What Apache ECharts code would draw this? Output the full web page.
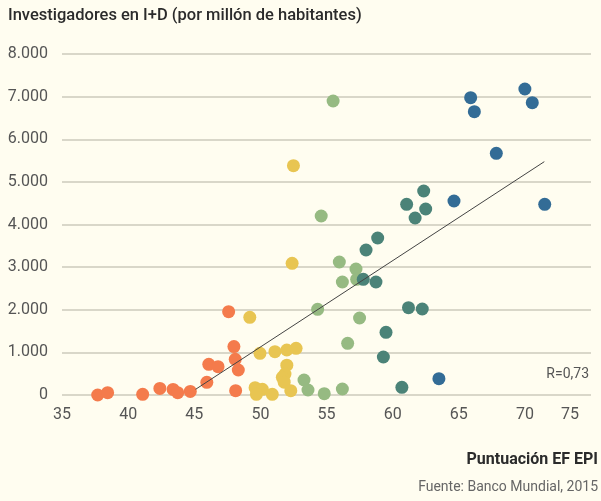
<!DOCTYPE html>
<html>
<head>
<meta charset="utf-8">
<script src="https://cdn.jsdelivr.net/npm/echarts@6/dist/echarts.min.js"></script>
<style>
html,body{margin:0;padding:0;background:#fffdf0;}
#chart{width:601px;height:501px;}
</style>
</head>
<body>
<div id="chart"></div>
<script>
// puntos [EF EPI, investigadores por millón]
var grupoNaranja = [[37.7,0],[38.45,55],[41.1,15],[42.4,155],[43.4,130],[43.75,55],[44.7,85],
    [45.95,297],[46.1,720],[46.8,665],[47.6,1955],[48.0,1135],[48.1,837],[48.33,586],[48.13,101]];
var grupoAmarillo = [[49.2,1822],[49.97,978],[51.1,1017],[52.0,1056],[52.7,1095],[52.0,700],
    [51.86,490],[51.66,415],[51.8,300],[52.3,101],[49.6,172],[50.15,133],[49.7,15],[50.9,15],
    [52.5,5380],[52.4,3090]];
var grupoVerde = [[55.5,6897],[54.6,4199],[55.97,3120],[57.23,2956],[56.2,2651],[57.28,2714],
    [54.33,2010],[57.5,1806],[56.6,1213],[53.3,352],[53.6,117],[54.83,31],[56.2,141]];
var grupoTeal = [[62.35,4786],[61.06,4474],[62.5,4364],[61.7,4152],[58.87,3683],[57.99,3402],
    [57.78,2714],[58.74,2651],[61.2,2048],[62.24,2018],[59.5,1471],[59.3,891],[60.7,180]];
var grupoAzul = [[70.0,7179],[65.9,6975],[70.56,6858],[66.18,6647],[67.84,5670],[64.64,4551],
    [71.5,4474],[63.5,383]];
var tendencia = [[45.1,133],[71.47,5474]];
var colores = ['#f47b4c','#e8c552','#96ba82','#4b8378','#336c96'];

var myChart = echarts.init(document.getElementById('chart'));

function puntos(datos, color){
    return {
        type:'scatter',
        data:datos,
        symbolSize:13,
        itemStyle:{color:color, opacity:1},
        z:3
    };
}

var option = {
    backgroundColor:'#fffdf0',
    animation:false,
    textStyle:{fontFamily:'Roboto'},
    title:[
        {
            text:'Investigadores en I+D (por millón de habitantes)',
            left:8, top:7, padding:0,
            textStyle:{fontSize:16.5, fontWeight:500, color:'#2b2b2b', fontFamily:'Roboto'}
        },
        {
            text:'Puntuación EF EPI',
            right:3, top:452, padding:0,
            textStyle:{fontSize:16, fontWeight:'bold', color:'#2b2b2b', fontFamily:'Roboto'}
        },
        {
            text:'Fuente: Banco Mundial, 2015',
            right:3, top:480, padding:0,
            textStyle:{fontSize:14, fontWeight:'normal', color:'#666', fontFamily:'Roboto'}
        }
    ],
    grid:{left:62, right:10, top:54, bottom:106},
    xAxis:{
        type:'value',
        min:35, max:75, interval:5,
        axisLine:{show:false},
        axisTick:{show:false},
        splitLine:{show:false},
        axisLabel:{
            color:'#555', fontSize:16, margin:12,
            formatter:function(v){ return v === 75 ? '{u|75}' : v; },
            rich:{u:{fontSize:16, color:'#555', padding:[0,42,0,0]}}
        }
    },
    yAxis:{
        type:'value',
        min:0, max:8000, interval:1000,
        axisLine:{show:false},
        axisTick:{show:false},
        splitLine:{lineStyle:{color:'#cdcabc', width:1.5}},
        axisLabel:{
            color:'#555', fontSize:16, margin:14,
            formatter:function(v){ return v === 0 ? '0' : (v/1000) + '.000'; }
        }
    },
    graphic:[
        {type:'text', right:12, top:367, style:{text:'R=0,73', fontSize:14, fill:'#555', fontFamily:'Roboto'}}
    ],
    series:[
        {
            type:'line', data:tendencia, symbol:'none', z:4,
            lineStyle:{color:'#444', width:1}
        },
        puntos(grupoNaranja, colores[0]),
        puntos(grupoAmarillo, colores[1]),
        puntos(grupoVerde, colores[2]),
        puntos(grupoTeal, colores[3]),
        puntos(grupoAzul, colores[4])
    ]
};
myChart.setOption(option);
</script>
</body>
</html>
